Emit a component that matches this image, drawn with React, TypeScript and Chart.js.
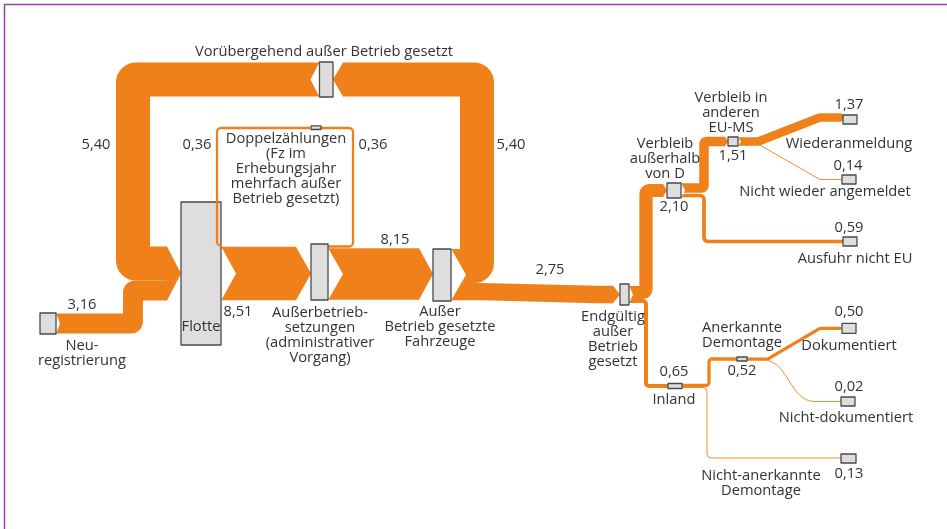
import React, { useEffect, useRef } from "react";
import { Chart, registerables } from "chart.js";
Chart.register(...registerables);

// ---------------- DATA (Mio. Fahrzeuge) ----------------
const nodeIds = [
  "neu", "flotte", "abs", "doppel", "avg", "vorueb", "endg", "ausD", "euMS",
  "wieder", "nichtWieder", "ausfuhr", "inland", "anerk", "dok", "nichtDok", "nichtAnerk",
];
const nodeLabels: string[][] = [
  ["Neu-", "registrierung"],
  ["Flotte"],
  ["Außerbetrieb-", "setzungen", "(administrativer", "Vorgang)"],
  ["Doppelzählungen", "(Fz im", "Erhebungsjahr", "mehrfach außer", "Betrieb gesetzt)"],
  ["Außer", "Betrieb gesetzte", "Fahrzeuge"],
  ["Vorübergehend außer Betrieb gesetzt"],
  ["Endgültig", "außer", "Betrieb", "gesetzt"],
  ["Verbleib", "außerhalb", "von D"],
  ["Verbleib in", "anderen", "EU-MS"],
  ["Wiederanmeldung"],
  ["Nicht wieder angemeldet"],
  ["Ausfuhr nicht EU"],
  ["Inland"],
  ["Anerkannte", "Demontage"],
  ["Dokumentiert"],
  ["Nicht-dokumentiert"],
  ["Nicht-anerkannte", "Demontage"],
];
const flowSource = ["neu", "vorueb", "flotte", "abs", "doppel", "abs", "avg", "avg", "endg", "endg", "ausD", "ausD", "euMS", "euMS", "inland", "inland", "anerk", "anerk"];
const flowTarget = ["flotte", "flotte", "abs", "doppel", "flotte", "avg", "vorueb", "endg", "ausD", "inland", "euMS", "ausfuhr", "wieder", "nichtWieder", "anerk", "nichtAnerk", "dok", "nichtDok"];
const flowValues = [3.16, 5.40, 8.51, 0.36, 0.36, 8.15, 5.40, 2.75, 2.10, 0.65, 1.51, 0.59, 1.37, 0.14, 0.52, 0.13, 0.50, 0.02];

// ---------------- LAYOUT (diagram units) ----------------
const UNITS_PER_MIO = 6.3;
// [left, centerY, width, height]
const nodeBoxes: number[][] = [
  [40, 323.5, 16, 21],
  [181, 273.5, 40, 143],
  [311, 272, 17, 56],
  [311, 127.7, 10, 3.6],
  [433, 275, 18, 52],
  [319.5, 79.5, 13.5, 35],
  [620, 294.5, 9, 21],
  [667, 190.5, 14, 15],
  [728, 141.5, 10, 9],
  [843, 119.5, 14, 9],
  [842, 179.5, 14, 9],
  [843, 241.5, 14, 9],
  [668, 386, 14, 5],
  [737, 359, 10, 4],
  [842, 328.3, 14, 10],
  [841, 401.5, 14, 9],
  [841, 458.5, 15, 9],
];
// [centerX, centerY of first line]
const nodeLabelAnchors: number[][] = [
  [82, 346], [201, 327], [320, 313], [286, 139], [440, 312], [324, 52], [613, 317],
  [665, 144], [731, 98], [849, 144], [825, 192], [855, 259], [674, 400], [742, 328],
  [849, 346], [846, 418], [761, 476],
];
type Route = { pts: number[][]; r: number; notch?: number; arrow?: number; cap?: CanvasLineCap; curve?: boolean; late?: boolean };
const flowRoutes: Route[] = [
  { pts: [[56, 323.5], [133, 323.5], [133, 290.5], [181, 290.5]], r: 2, notch: 4, arrow: 14 },
  { pts: [[319.5, 79.5], [133, 79.5], [133, 263.5], [181, 263.5]], r: 3, notch: 9, arrow: 14 },
  { pts: [[221, 273.5], [311, 273.5]], r: 0, notch: 15, arrow: 15 },
  { pts: [[328, 246.5], [353, 246.5], [353, 128], [321, 128]], r: 4 },
  { pts: [[311, 128], [217, 128], [217, 245.5], [222, 245.5]], r: 4, late: true },
  { pts: [[328, 274], [433, 274]], r: 0, notch: 15, arrow: 14 },
  { pts: [[451, 266], [477, 266], [477, 79.5], [333, 79.5]], r: 3, notch: 15, arrow: 10 },
  { pts: [[451, 291.6], [482, 291.6], [598, 294.5], [620, 294.5]], r: 20, notch: 15, arrow: 7 },
  { pts: [[629, 292.5], [646, 292.5], [646, 190.5], [667, 190.5]], r: 3.5, notch: 4, arrow: 4 },
  { pts: [[629, 301], [646, 301], [646, 386], [668, 386]], r: 3, notch: 4 },
  { pts: [[681, 188], [704, 188], [704, 141.5], [728, 141.5]], r: 2.5, notch: 4, arrow: 3 },
  { pts: [[681, 195.5], [704, 195.5], [704, 241.5], [843, 241.5]], r: 4, notch: 4 },
  { pts: [[738, 141.5], [758, 141.5], [820, 117.5], [840, 117.5]], r: 5, notch: 3, cap: "round" },
  { pts: [[738, 144], [758, 144], [820, 179.5], [842, 179.5]], r: 4, notch: 3 },
  { pts: [[682, 385.5], [709, 385.5], [709, 359], [737, 359]], r: 3 },
  { pts: [[682, 387.5], [707, 387.5], [707, 458], [841, 458]], r: 4 },
  { pts: [[747, 359], [768, 359], [820, 328.3], [840, 328.3]], r: 4, cap: "round" },
  { pts: [[747, 360], [763, 360], [815, 401.5], [841, 401.5]], r: 0, curve: true },
];
const flowLabelAnchors: number[][] = [
  [82, 305], [96, 145], [238, 312], [373, 145], [197, 145], [395, 240], [511, 145], [550, 270],
  [674, 207], [674, 372], [733, 156], [849, 228], [849, 105], [848, 166], [742, 371], [849, 474],
  [849, 312], [849, 387],
];

const ORANGE = "#f0801a";
const TEXT = "#333333";
const FONT = '14.7px "Open Sans"';
const fmt = (v: number) => v.toFixed(2).replace(".", ",");

const sankeyPlugin = {
  id: "sankeyDraw",
  afterDatasetsDraw(chart: any) {
    const ctx: CanvasRenderingContext2D = chart.ctx;
    const xs = chart.scales.x;
    const ys = chart.scales.y;
    const X = (v: number) => xs.getPixelForValue(v);
    const Y = (v: number) => ys.getPixelForValue(v);
    const LX = (d: number) => Math.abs(X(d) - X(0));
    const LY = (d: number) => Math.abs(Y(d) - Y(0));
    const widthOf = (val: number) => Math.max(LY(val * UNITS_PER_MIO), 0.9);

    ctx.save();
    // frame
    ctx.strokeStyle = "#9c3fa7";
    ctx.lineWidth = 1.5;
    ctx.beginPath();
    ctx.moveTo(X(4.5), Y(529));
    ctx.lineTo(X(4.5), Y(4.5));
    ctx.lineTo(X(947), Y(4.5));
    ctx.stroke();

    const arrowGroups: Record<string, any> = {};
    const notchGroups: Record<string, any> = {};

    const drawFlow = (i: number) => {
      const route = flowRoutes[i];
      const w = widthOf(flowValues[i]);
      const pts = route.pts.map((p) => [X(p[0]), Y(p[1])]);
      const n = pts.length;
      if (route.arrow) {
        const dir = Math.sign(pts[n - 1][0] - pts[n - 2][0]);
        pts[n - 1] = [pts[n - 1][0] - dir * LX(route.arrow), pts[n - 1][1]];
      }
      ctx.strokeStyle = ORANGE;
      ctx.lineWidth = w;
      ctx.lineCap = route.cap || "butt";
      ctx.lineJoin = "round";
      ctx.beginPath();
      ctx.moveTo(pts[0][0], pts[0][1]);
      if (route.curve) {
        ctx.lineTo(pts[1][0], pts[1][1]);
        const mx = (pts[2][0] - pts[1][0]) * 0.5;
        ctx.bezierCurveTo(pts[1][0] + mx, pts[1][1], pts[2][0] - mx, pts[2][1], pts[2][0], pts[2][1]);
        ctx.lineTo(pts[3][0], pts[3][1]);
      } else {
        for (let k = 1; k < n - 1; k++) {
          if (route.r > 0) ctx.arcTo(pts[k][0], pts[k][1], pts[k + 1][0], pts[k + 1][1], LX(route.r));
          else ctx.lineTo(pts[k][0], pts[k][1]);
        }
        ctx.lineTo(pts[n - 1][0], pts[n - 1][1]);
      }
      ctx.stroke();
    };

    flowRoutes.forEach((route, i) => {
      if (route.late) return;
      drawFlow(i);
      const p = route.pts;
      const n = p.length;
      const w = widthOf(flowValues[i]);
      if (route.arrow) {
        const dir = Math.sign(p[n - 1][0] - p[n - 2][0]);
        const key = flowTarget[i] + dir;
        const yc = Y(p[n - 1][1]);
        const g = arrowGroups[key] || { x: X(p[n - 1][0]), dir, top: Infinity, bot: -Infinity, len: 0 };
        g.top = Math.min(g.top, yc - w / 2);
        g.bot = Math.max(g.bot, yc + w / 2);
        g.len = Math.max(g.len, LX(route.arrow));
        arrowGroups[key] = g;
      }
      if (route.notch) {
        const dir = Math.sign(p[1][0] - p[0][0]);
        const key = flowSource[i] + dir;
        const yc = Y(p[0][1]);
        const g = notchGroups[key] || { x: X(p[0][0]), dir, top: Infinity, bot: -Infinity, len: 0 };
        g.top = Math.min(g.top, yc - w / 2);
        g.bot = Math.max(g.bot, yc + w / 2);
        g.len = Math.max(g.len, LX(route.notch));
        notchGroups[key] = g;
      }
    });

    // arrow heads
    ctx.fillStyle = ORANGE;
    Object.values(arrowGroups).forEach((g: any) => {
      const bx = g.x - g.dir * (g.len + 0.6);
      ctx.beginPath();
      ctx.moveTo(bx, g.top);
      ctx.lineTo(g.x - g.dir * g.len, g.top);
      ctx.lineTo(g.x, (g.top + g.bot) / 2);
      ctx.lineTo(g.x - g.dir * g.len, g.bot);
      ctx.lineTo(bx, g.bot);
      ctx.closePath();
      ctx.fill();
    });
    // notches at sources
    ctx.fillStyle = "#ffffff";
    Object.values(notchGroups).forEach((g: any) => {
      ctx.beginPath();
      ctx.moveTo(g.x, g.top - 0.5);
      ctx.lineTo(g.x + g.dir * g.len, (g.top + g.bot) / 2);
      ctx.lineTo(g.x, g.bot + 0.5);
      ctx.closePath();
      ctx.fill();
    });

    // nodes
    nodeBoxes.forEach((b) => {
      const x0 = X(b[0]);
      const y0 = Y(b[1] - b[3] / 2);
      const wpx = LX(b[2]);
      const hpx = LY(b[3]);
      ctx.fillStyle = "#dedede";
      ctx.fillRect(x0, y0, wpx, hpx);
      ctx.strokeStyle = "#4a4a4a";
      ctx.lineWidth = 1.3;
      ctx.strokeRect(x0, y0, wpx, hpx);
    });

    // flows drawn above nodes
    flowRoutes.forEach((route, i) => {
      if (route.late) drawFlow(i);
    });

    // texts
    ctx.fillStyle = TEXT;
    ctx.font = FONT;
    ctx.textAlign = "center";
    ctx.textBaseline = "middle";
    nodeLabels.forEach((lines, i) => {
      const a = nodeLabelAnchors[i];
      lines.forEach((ln, j) => ctx.fillText(ln, X(a[0]), Y(a[1] + j * 15)));
    });
    flowValues.forEach((v, i) => {
      const a = flowLabelAnchors[i];
      if (a) ctx.fillText(fmt(v), X(a[0]), Y(a[1]));
    });
    ctx.restore();
  },
};

export default function App() {
  const ref = useRef<HTMLCanvasElement>(null);
  useEffect(() => {
    document.body.style.margin = "0";
    const chart = new Chart(ref.current as HTMLCanvasElement, {
      type: "scatter",
      data: {
        datasets: [
          {
            label: "Knoten",
            data: nodeBoxes.map((b, i) => ({ x: b[0] + b[2] / 2, y: b[1], id: nodeIds[i] })) as any,
            pointRadius: 0,
            pointHoverRadius: 0,
          },
        ],
      },
      options: {
        responsive: false,
        animation: false,
        events: [],
        layout: { padding: 0 },
        plugins: { legend: { display: false }, tooltip: { enabled: false } },
        scales: {
          x: { type: "linear", display: false, min: 0, max: 947 },
          y: { type: "linear", display: false, min: 0, max: 529, reverse: true },
        },
      },
      plugins: [sankeyPlugin],
    });
    return () => chart.destroy();
  }, []);
  return (
    <div style={{ width: 947, height: 529 }}>
      <canvas ref={ref} width={947} height={529} style={{ display: "block" }} />
    </div>
  );
}
